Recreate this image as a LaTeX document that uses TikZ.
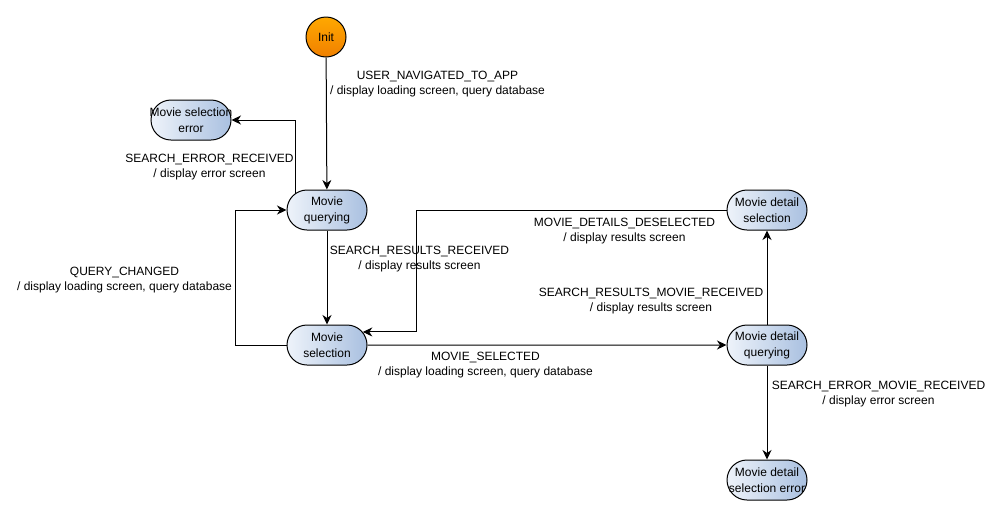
\documentclass[tikz,border=0pt]{standalone}
\usepackage{fontspec}
\setmainfont{Liberation Sans}
\usetikzlibrary{arrows.meta,shapes.misc}

\definecolor{stLeft}{HTML}{EEF3FA}
\definecolor{stRight}{HTML}{A9C0E0}
\definecolor{initTop}{HTML}{FFA800}
\definecolor{initBot}{HTML}{F08000}

% one centred line of state text, allowed to run over the border
\newcommand{\stxt}[1]{\makebox[0pt][c]{#1}}

\tikzset{
  state/.style={shape=rounded rectangle, draw=black, line width=1pt,
    minimum width=80pt, minimum height=40pt, inner sep=0pt,
    left color=stLeft, right color=stRight, align=center,
    font=\fontsize{12}{16}\selectfont},
  start/.style={circle, draw=black, line width=1pt, minimum size=40pt,
    inner sep=0pt, top color=initTop, bottom color=initBot,
    font=\fontsize{12}{15}\selectfont},
  trans/.style={align=center, inner sep=0pt, font=\fontsize{12}{15}\selectfont},
  arr/.style={line width=1pt, -{Stealth[length=9.5pt,width=9pt,inset=3pt]}}
}

\begin{document}
\begin{tikzpicture}[x=1pt,y=-1pt]
  \useasboundingbox[fill=white] (0,0) rectangle (1003,515);
  % -=-=-=-=- STATES -=-=-=-=-
  \node[start] (init) at (326,37) {Init};
  \node[state] (selerr) at (191,120) {\stxt{Movie selection}\\\stxt{error}};
  \node[state] (query) at (327,210) {\stxt{Movie}\\\stxt{querying}};
  \node[state] (select) at (327,345) {\stxt{Movie}\\\stxt{selection}};
  \node[state] (dsel) at (767,210) {\stxt{Movie detail}\\\stxt{selection}};
  \node[state] (dquery) at (767,345) {\stxt{Movie detail}\\\stxt{querying}};
  \node[state] (derr) at (767,480) {\stxt{Movie detail}\\\stxt{selection error}};

  % -=-=-=-=- TRANSITIONS -=-=-=-=-
  \draw[arr] (init) -- (query);
  \draw[arr] (query.152) |- (selerr.east);
  \draw[arr] (query) -- (select);
  \draw[arr] (select.west) -- ++(-51,0) |- (query.west);
  \draw[arr] (select) -- (dquery);
  \draw[arr] (dsel.west) -- ++(-310,0) |- (select.20);
  \draw[arr] (dquery) -- (dsel);
  \draw[arr] (dquery) -- (derr);

  % -=-=-=-=- LABELS -=-=-=-=-
  \node[trans] (t1) at (437.5,84.5) {USER\_NAVIGATED\_TO\_APP\\/ display loading screen, query database};
  \node[trans] (t2) at (209.5,167.5) {SEARCH\_ERROR\_RECEIVED\\/ display error screen};
  \node[trans] (t3) at (124.5,280.5) {QUERY\_CHANGED\\/ display loading screen, query database};
  \node[trans] (t4) at (419.5,259.5) {SEARCH\_RESULTS\_RECEIVED\\/ display results screen};
  \node[trans] (t5) at (624.5,231.5) {MOVIE\_DETAILS\_DESELECTED\\/ display results screen};
  \node[trans] (t6) at (651,301) {SEARCH\_RESULTS\_MOVIE\_RECEIVED\\/ display results screen};
  \node[trans] (t7) at (485.5,365.5) {MOVIE\_SELECTED\\/ display loading screen, query database};
  \node[trans] (t8) at (878.5,394.5) {SEARCH\_ERROR\_MOVIE\_RECEIVED\\/ display error screen};
\end{tikzpicture}
\end{document}
